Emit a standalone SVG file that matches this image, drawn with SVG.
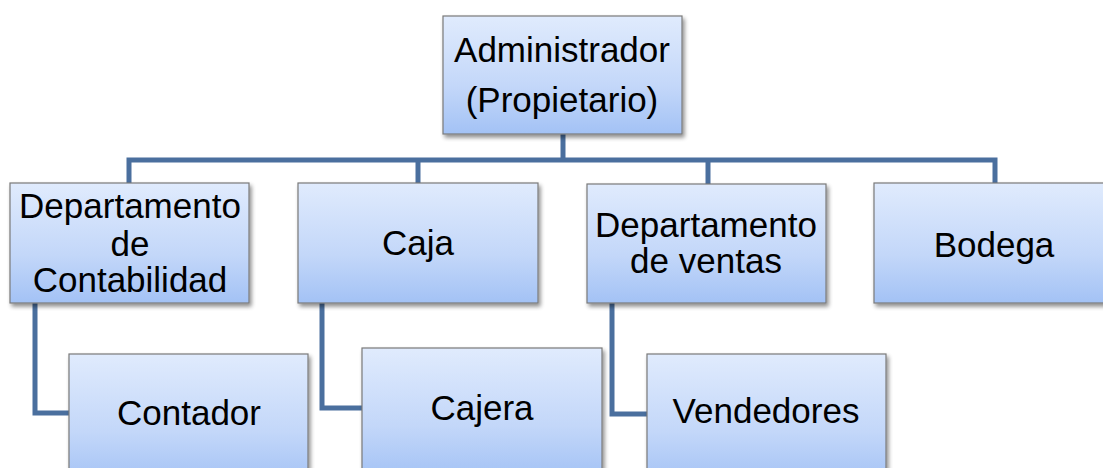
<svg xmlns="http://www.w3.org/2000/svg" width="1103" height="468" viewBox="0 0 1103 468">
<defs>
<linearGradient id="g" x1="0" y1="0" x2="0" y2="1">
<stop offset="0" stop-color="#e0ebfd"/>
<stop offset="0.6" stop-color="#c3d7f9"/>
<stop offset="1" stop-color="#a3c2f5"/>
</linearGradient>
<filter id="sh" x="-10%" y="-10%" width="125%" height="130%">
<feGaussianBlur in="SourceAlpha" stdDeviation="2"/>
<feOffset dx="2" dy="3" result="b"/>
<feComponentTransfer><feFuncA type="linear" slope="0.45"/></feComponentTransfer>
<feMerge><feMergeNode/><feMergeNode in="SourceGraphic"/></feMerge>
</filter>
</defs>
<style>
.box{fill:url(#g);stroke:#7a7a7a;stroke-width:1.2;filter:url(#sh)}
.t{font-family:"Liberation Sans",Arial,sans-serif;font-size:35px;fill:#000;text-anchor:middle}
.c{fill:none;stroke:#4a6f9e;stroke-width:5;stroke-linejoin:miter}
</style>
<g id="connectors">
<path class="c" d="M563 134 V160"/>
<path class="c" d="M129 184 V160 H995 V184"/>
<path class="c" d="M418 160 V184"/>
<path class="c" d="M708 160 V184"/>
<path class="c" d="M35 303 V413 H69"/>
<path class="c" d="M322 303 V408 H362"/>
<path class="c" d="M612 303 V414 H647"/>
</g>
<g id="admin">
<rect class="box" x="443" y="16" width="239" height="118"/>
<text class="t" x="562" y="62">Administrador</text>
<text class="t" x="562" y="112">(Propietario)</text>
</g>
<g id="contabilidad">
<rect class="box" x="10" y="183" width="239" height="120"/>
<text class="t" x="130" y="218">Departamento</text>
<text class="t" x="130" y="256">de</text>
<text class="t" x="130" y="292">Contabilidad</text>
</g>
<g id="caja">
<rect class="box" x="298" y="183" width="240" height="120"/>
<text class="t" x="418" y="255">Caja</text>
</g>
<g id="ventas">
<rect class="box" x="587" y="184" width="239" height="119"/>
<text class="t" x="706" y="237">Departamento</text>
<text class="t" x="706" y="273">de ventas</text>
</g>
<g id="bodega">
<rect class="box" x="874" y="183" width="240" height="120"/>
<text class="t" x="994" y="257">Bodega</text>
</g>
<g id="contador">
<rect class="box" x="69" y="354" width="239" height="130"/>
<text class="t" x="189" y="425">Contador</text>
</g>
<g id="cajera">
<rect class="box" x="362" y="348" width="240" height="130"/>
<text class="t" x="482" y="420">Cajera</text>
</g>
<g id="vendedores">
<rect class="box" x="647" y="354" width="239" height="130"/>
<text class="t" x="766" y="423">Vendedores</text>
</g>
</svg>
